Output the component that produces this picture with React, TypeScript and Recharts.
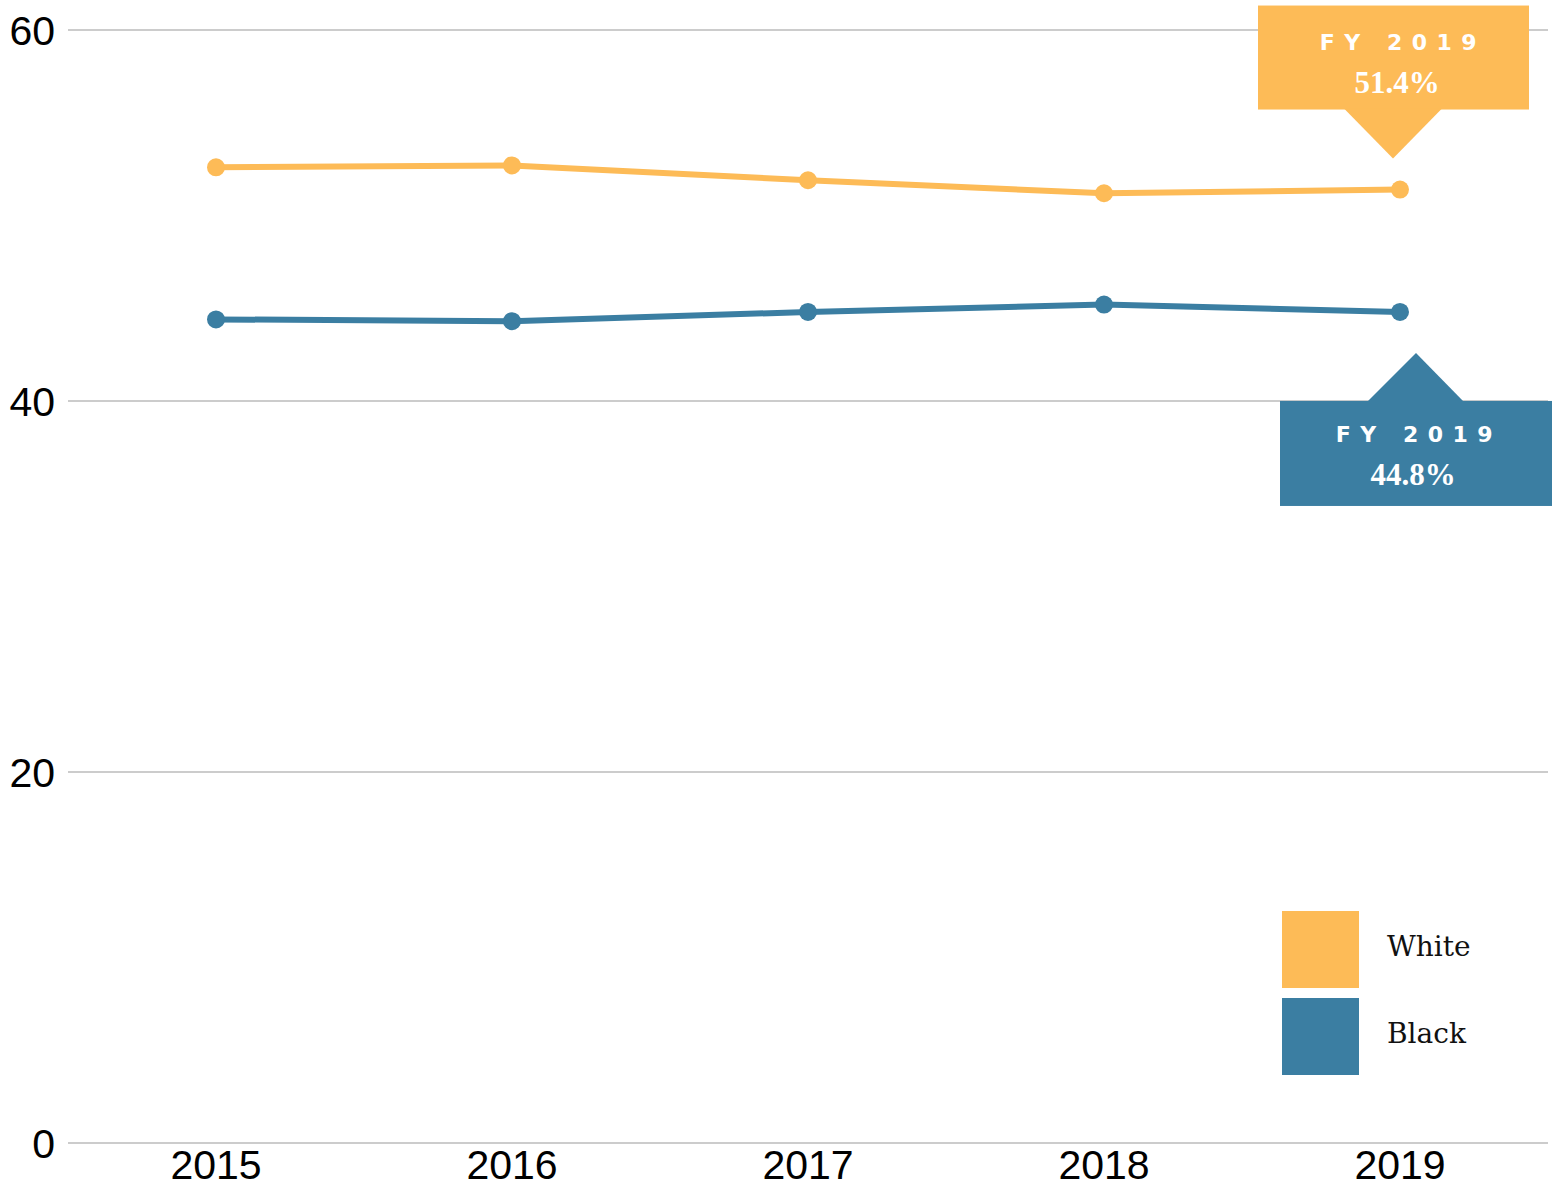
import React from 'react';
import { LineChart, Line, XAxis, YAxis, CartesianGrid, ReferenceDot } from 'recharts';

const YEARS = ['2015', '2016', '2017', '2018', '2019'];
const WHITE = [52.6, 52.7, 51.9, 51.2, 51.4];
const BLACK = [44.4, 44.3, 44.8, 45.2, 44.8];
const Y_TICKS = [0, 20, 40, 60];

const ORANGE = '#FDBB57';
const BLUE = '#3B7EA2';

const data = YEARS.map((year, i) => ({ year, white: WHITE[i], black: BLACK[i] }));

const fyStyle = { fontFamily: '"DejaVu Sans"', fontWeight: 700, fontSize: 22, letterSpacing: 9.5 };
const pctStyle = { fontFamily: '"Liberation Serif"', fontWeight: 700, fontSize: 31 };

// callout above the point (White)
function TopCallout(props: any) {
    const { cx, cy, value, color } = props;
    if (cx == null || cy == null) return null;
    return (
        <g>
            <rect x={cx - 142} y={cy - 184} width={271} height={104} fill={color} />
            <polygon points={`${cx - 56},${cy - 81} ${cx + 42},${cy - 81} ${cx - 7},${cy - 31}`} fill={color} />
            <text x={cx + 3} y={cy - 140} textAnchor="middle" fill="#fff" style={fyStyle}>
                FY  2019
            </text>
            <text x={cx - 3} y={cy - 97} textAnchor="middle" fill="#fff" style={pctStyle}>
                {`${value.toFixed(1)}%`}
            </text>
        </g>
    );
}

// callout below the point (Black)
function BottomCallout(props: any) {
    const { cx, cy, value, color } = props;
    if (cx == null || cy == null) return null;
    return (
        <g>
            <rect x={cx - 120} y={cy + 89} width={272} height={105} fill={color} />
            <polygon points={`${cx - 33},${cy + 90} ${cx + 64},${cy + 90} ${cx + 16},${cy + 41}`} fill={color} />
            <text x={cx + 19} y={cy + 130} textAnchor="middle" fill="#fff" style={fyStyle}>
                FY  2019
            </text>
            <text x={cx + 13} y={cy + 173} textAnchor="middle" fill="#fff" style={pctStyle}>
                {`${value.toFixed(1)}%`}
            </text>
        </g>
    );
}

function ChartLegend() {
    const items = [
        { label: 'White', color: ORANGE },
        { label: 'Black', color: BLUE },
    ];
    return (
        <div style={{ position: 'absolute', left: 1282, top: 911, display: 'flex', flexDirection: 'column', gap: 10 }}>
            {items.map(it => (
                <div key={it.label} style={{ display: 'flex', alignItems: 'center', height: 77 }}>
                    <div style={{ width: 77, height: 77, background: it.color }} />
                    <span style={{ marginLeft: 28, fontFamily: '"DejaVu Serif"', fontSize: 28, color: '#111', paddingBottom: 6 }}>
                        {it.label}
                    </span>
                </div>
            ))}
        </div>
    );
}

export default function App() {
    return (
        <div style={{ position: 'absolute', left: 0, top: 0, width: 1559, height: 1188, background: '#fff' }}>
            <LineChart width={1559} height={1188} data={data} margin={{ top: 30, right: 11, bottom: 0, left: 0 }}>
                <CartesianGrid vertical={false} stroke="#cccccc" strokeWidth={2} />
                <XAxis
                    dataKey="year"
                    height={45}
                    axisLine={false}
                    tickLine={false}
                    tickSize={6}
                    tickMargin={1}
                    padding={{ left: 148, right: 148 }}
                    tick={{ fill: '#000', fontSize: 41, fontFamily: '"Liberation Sans"' }}
                    interval={0}
                />
                <YAxis
                    width={68}
                    domain={[0, 60]}
                    ticks={Y_TICKS}
                    axisLine={false}
                    tickLine={false}
                    tickSize={6}
                    tickMargin={7}
                    tick={{ fill: '#000', fontSize: 41, fontFamily: '"Liberation Sans"' }}
                />
                <Line type="linear" dataKey="white" stroke={ORANGE} strokeWidth={6}
                    dot={{ r: 9, fill: ORANGE, stroke: 'none' }} activeDot={false} isAnimationActive={false} />
                <Line type="linear" dataKey="black" stroke={BLUE} strokeWidth={6}
                    dot={{ r: 9, fill: BLUE, stroke: 'none' }} activeDot={false} isAnimationActive={false} />
                <ReferenceDot x={YEARS[4]} y={WHITE[4]} r={0} ifOverflow="visible"
                    shape={(p: any) => <TopCallout {...p} value={WHITE[4]} color={ORANGE} />} />
                <ReferenceDot x={YEARS[4]} y={BLACK[4]} r={0} ifOverflow="visible"
                    shape={(p: any) => <BottomCallout {...p} value={BLACK[4]} color={BLUE} />} />
            </LineChart>
            <ChartLegend />
        </div>
    );
}
